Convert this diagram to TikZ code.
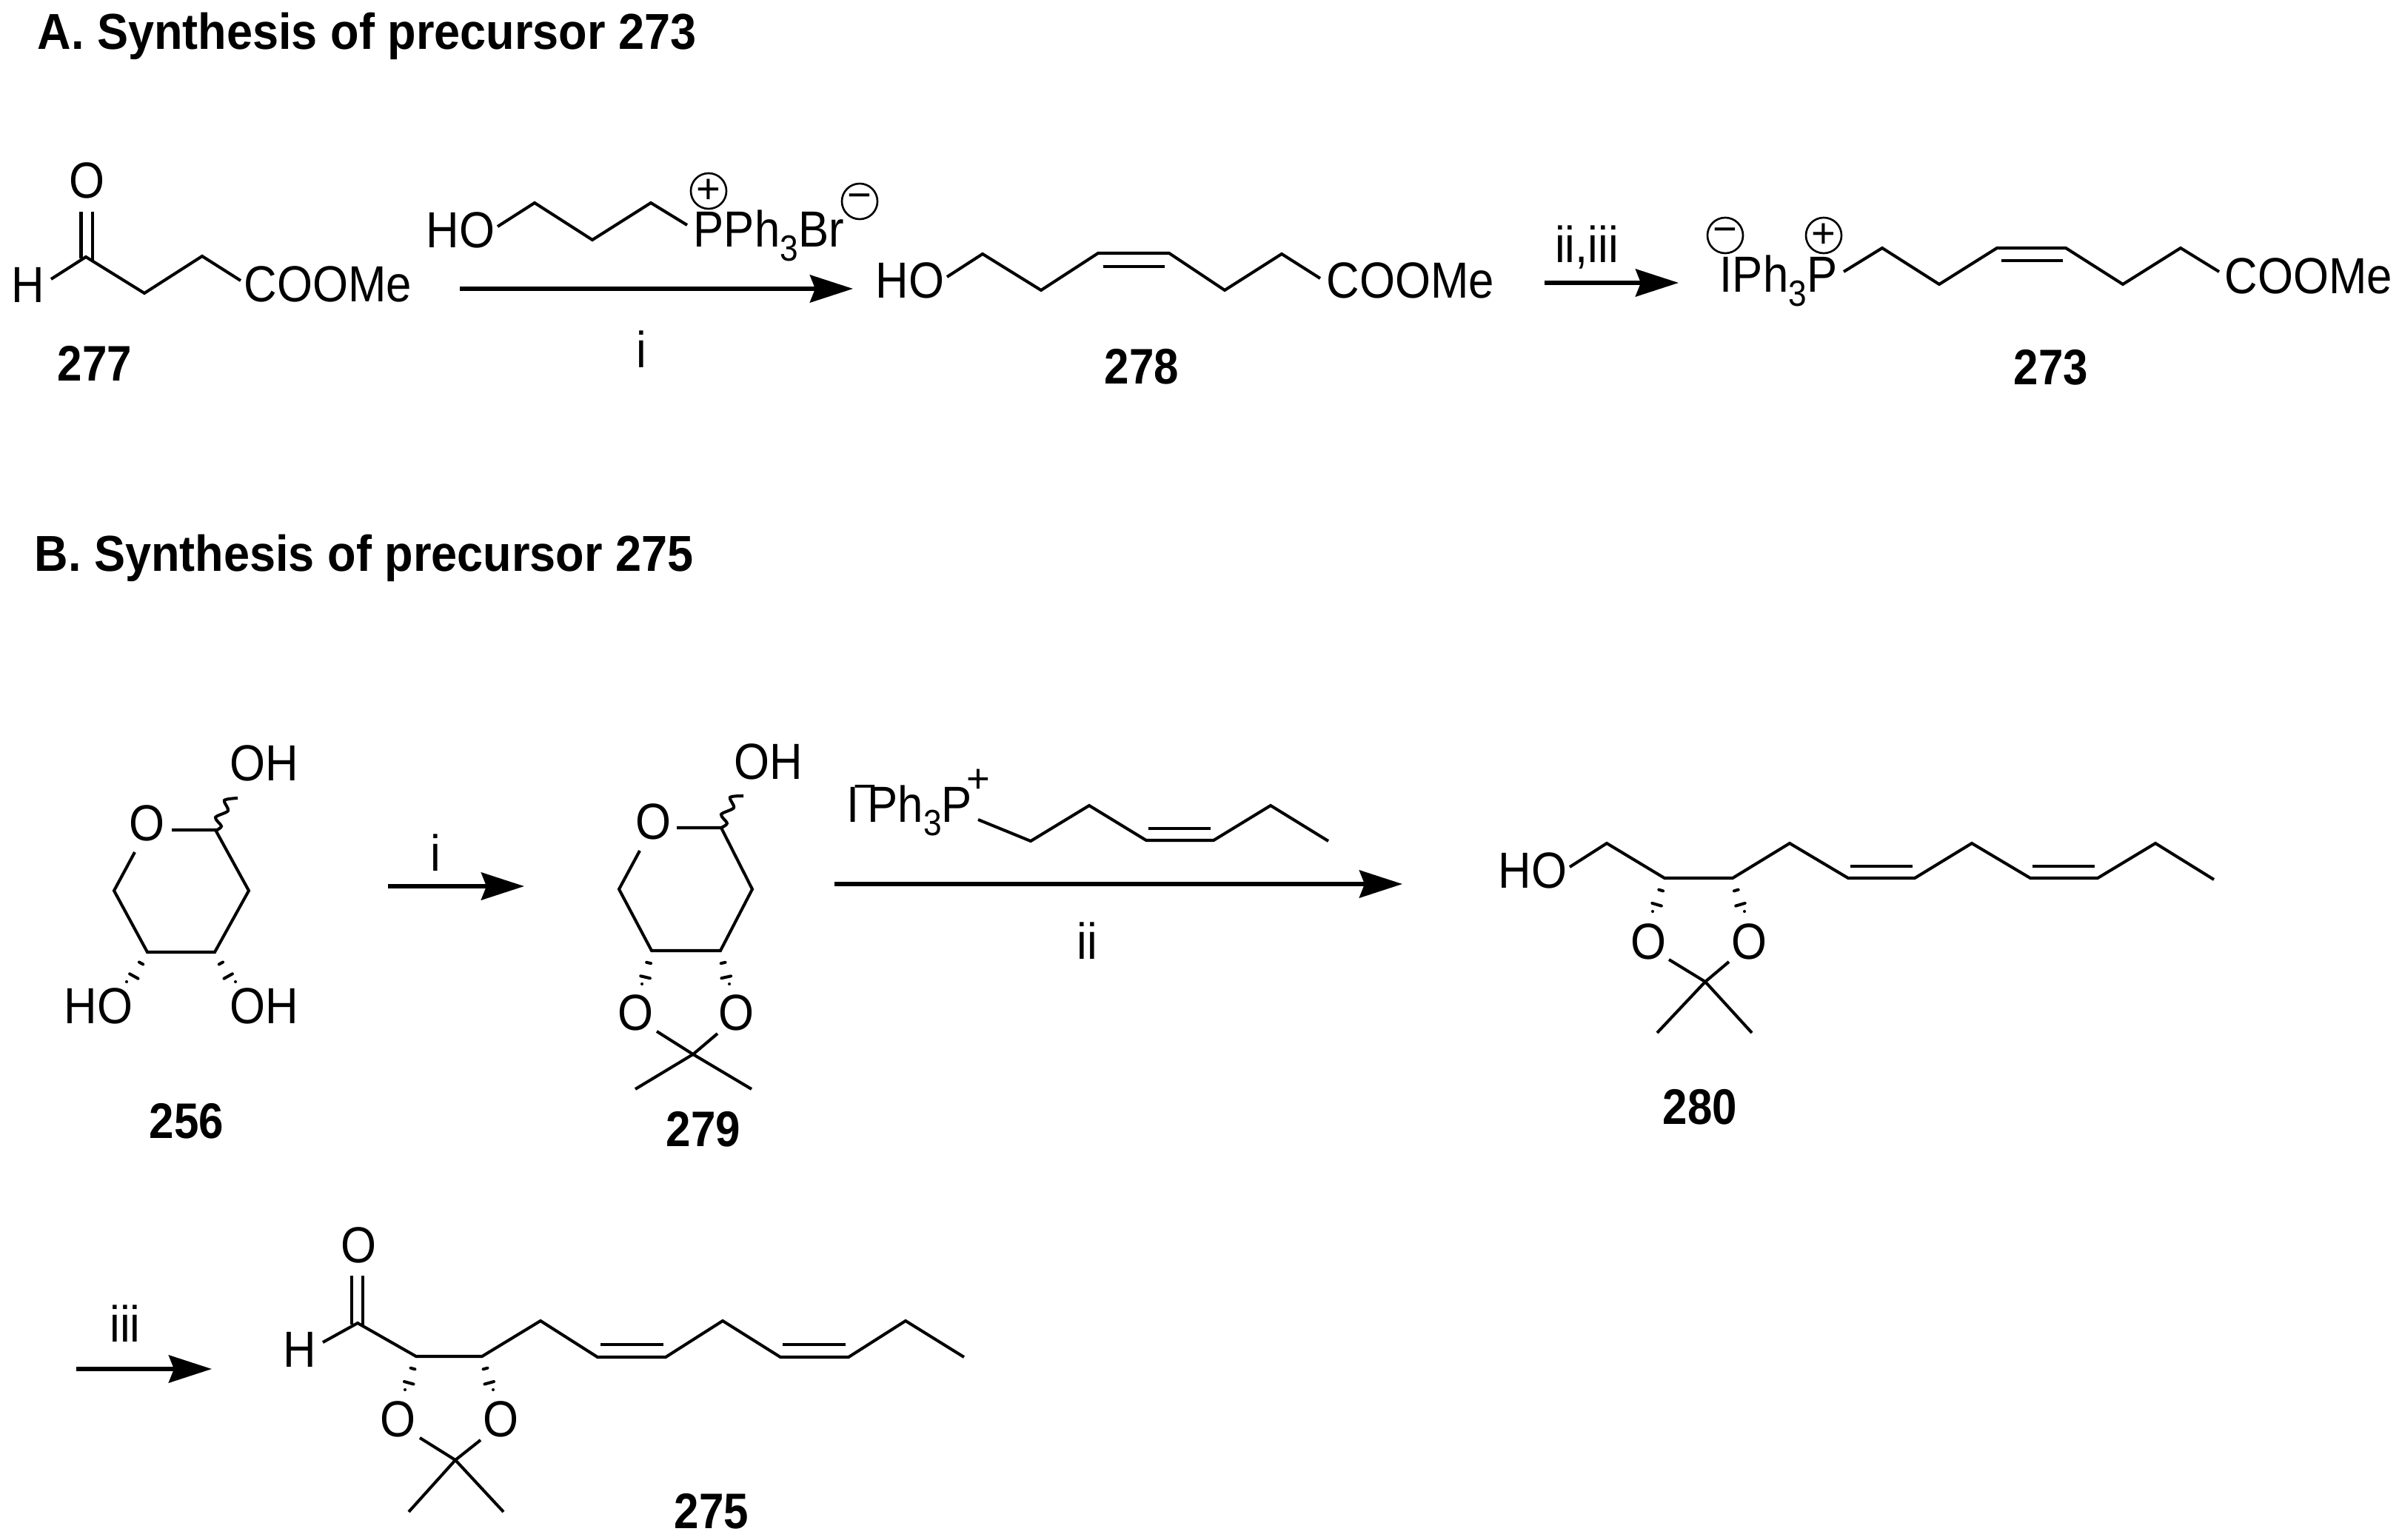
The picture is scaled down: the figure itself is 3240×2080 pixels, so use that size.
\documentclass[tikz,border=0pt]{standalone}
\usepackage{fontspec}
\setmainfont{Liberation Sans}
\usetikzlibrary{arrows.meta,calc}
\newcommand\chemtxt[1]{\scalebox{.9}[1]{#1}}
\newcommand\boldtxt[1]{\scalebox{.89}[1]{#1}}
\newcommand\headtxt[1]{\scalebox{.924}[1]{#1}}
\newcommand\subthree{\raisebox{-5.4pt}{\fontsize{14}{14}\selectfont 3}}
\newcommand\hashbond[2]{\foreach \f/\h in {.3/.03,.65/.065,1/.1}{\draw[hashmark] ($#1!\f!#2!\h cm!90:#2$) -- ($#1!\f!#2!\h cm!-90:#2$);}}
\tikzset{
  x=0.01cm,y=-0.01cm,
  bond/.style={line width=1.15pt,line join=miter,line cap=butt},
  hashmark/.style={line width=1.15pt,line cap=round},
  rxn/.style={line width=1.6pt,-{Stealth[length=5.8mm,width=3.7mm,inset=0.7mm]}},
  lab/.style={inner sep=0pt,yshift=-0.02cm,font=\fontsize{19.5}{19.5}\selectfont},
  cmpd/.style={inner sep=0pt,font=\fontsize{19.2}{19.2}\selectfont\bfseries},
  head/.style={inner sep=0pt,anchor=base west,font=\fontsize{19.4}{19.4}\selectfont\bfseries},
  chg/.style={circle,draw,line width=.75pt,minimum size=0.48cm,inner sep=0pt,font=\fontsize{16}{16}\selectfont},
  bare/.style={inner sep=0pt,font=\fontsize{15.5}{15.5}\selectfont},
}
\begin{document}
\begin{tikzpicture}
\useasboundingbox (0,0) rectangle (3240,2080);
\fill[white] (0,0) rectangle (3240,2080);
% headers
\node[head] (hA) at (50,67) {\headtxt{A. Synthesis of precursor 273}};
\node[head] (hB) at (46,772) {\headtxt{B. Synthesis of precursor 275}};
% 277
\node[lab,anchor=base] (o277) at (117,266) {\chemtxt{O}};
\node[lab,anchor=base] (h277) at (38,407) {\chemtxt{H}};
\node[lab,anchor=base west] (c277) at (329,406) {\chemtxt{COOMe}};
\draw[bond] (69,377) -- (116,347) -- (195,396) -- (273,346) -- (325,379);
\draw[bond] (109.5,286) -- (109.5,349) (124.7,286) -- (124.7,352);
\node[cmpd] (n277) at (128,491) {\boldtxt{277}};
% reagent i
\node[lab,anchor=base west] (ho1) at (575,333) {\chemtxt{HO}};
\draw[bond] (672,306) -- (722,274) -- (800,324) -- (879,274) -- (928,304);
\node[lab,anchor=base west] (pph) at (936,332) {\chemtxt{PPh\subthree Br}};
\node[chg] (pc1) at (957,258) {+};
\node[chg] (mc1) at (1161,272) {−};
\coordinate (a1s) at (621,390); \coordinate (a1e) at (1152,390);
\draw[rxn] (a1s) -- (a1e);
\node[lab] (i1) at (866,470) {\chemtxt{i}};
% 278
\node[lab,anchor=base west] (ho278) at (1182,401) {\chemtxt{HO}};
\draw[bond] (1279,374) -- (1327,343) -- (1406,392) -- (1483,342) -- (1579,342) -- (1654,392) -- (1731,343) -- (1783,376);
\draw[bond] (1490,360) -- (1573,360);
\node[lab,anchor=base west] (c278) at (1791,401) {\chemtxt{COOMe}};
\node[cmpd] (n278) at (1542,495) {\boldtxt{278}};
% arrow ii,iii
\coordinate (a2s) at (2086,382); \coordinate (a2e) at (2267,382);
\draw[rxn] (a2s) -- (a2e);
\node[lab,anchor=base] (r23) at (2143,353) {\chemtxt{ii,iii}};
% 273
\node[chg] (mc2) at (2330,318) {−};
\node[chg] (pc2) at (2463,318) {+};
\node[lab,anchor=base west] (iph) at (2322,393) {\chemtxt{IPh\subthree P}};
\draw[bond] (2490,367) -- (2542,335) -- (2619,384) -- (2697,335) -- (2790,335) -- (2867,384) -- (2945,335) -- (2997,367);
\draw[bond] (2703,352) -- (2786,352);
\node[lab,anchor=base west] (c273) at (3004,395) {\chemtxt{COOMe}};
\node[cmpd] (n273) at (2770,496) {\boldtxt{273}};
% 256
\node[lab,anchor=base] (oh256) at (357,1052) {\chemtxt{OH}};
\node[lab] (o256) at (199,1110) {\chemtxt{O}};
\draw[bond] (232,1121) -- (291,1121) -- (336,1203) -- (290,1286) -- (199,1286) -- (154,1203) -- (182,1151);
\draw[bond] plot[smooth] coordinates {(291,1122) (299,1116) (291,1104) (308,1095) (303,1081) (321,1078)};
\hashbond{(199,1286)}{(171,1336)}
\hashbond{(290,1286)}{(318,1336)}
\node[lab,anchor=base] (ho256) at (133,1380) {\chemtxt{HO}};
\node[lab,anchor=base] (oh256b) at (357,1380) {\chemtxt{OH}};
\node[cmpd] (n256) at (252,1514) {\boldtxt{256}};
% arrow i
\coordinate (a3s) at (524,1197); \coordinate (a3e) at (708,1197);
\draw[rxn] (a3s) -- (a3e);
\node[lab] (i2) at (588,1150) {\chemtxt{i}};
% 279
\node[lab,anchor=base] (oh279) at (1038,1050) {\chemtxt{OH}};
\node[lab] (o279) at (882,1108) {\chemtxt{O}};
\draw[bond] (914,1118) -- (974,1118) -- (1016,1201) -- (973,1284) -- (880,1284) -- (836,1201) -- (864,1149);
\draw[bond] plot[smooth] coordinates {(974,1118) (982,1112) (974,1100) (991,1091) (986,1077) (1004,1075)};
\hashbond{(880,1284)}{(867,1339)}
\hashbond{(973,1284)}{(985,1339)}
\node[lab] (oa279) at (858,1366) {\chemtxt{O}};
\node[lab] (ob279) at (994,1366) {\chemtxt{O}};
\draw[bond] (887,1393) -- (936,1424) -- (1015,1471) (969,1396) -- (936,1424) -- (858,1471);
\node[cmpd] (n279) at (950,1525) {\boldtxt{279}};
% reagent ii
\node[lab,anchor=base west] (iph2) at (1143,1108) {\chemtxt{I\kern3.4pt Ph\subthree P}};
\node[bare] (mi) at (1168,1070) {−};
\node[bare] (pl) at (1321,1055) {+};
\draw[bond] (1321,1107) -- (1392,1136) -- (1471,1088) -- (1548,1135) -- (1639,1135) -- (1716,1088) -- (1794,1136);
\draw[bond] (1551,1119) -- (1635,1119);
\coordinate (a4s) at (1127,1194); \coordinate (a4e) at (1894,1194);
\draw[rxn] (a4s) -- (a4e);
\node[lab] (ii) at (1468,1269) {\chemtxt{ii}};
% 280
\node[lab,anchor=base west] (ho280) at (2023,1197) {\chemtxt{HO}};
\draw[bond] (2120,1171) -- (2170,1139) -- (2248,1186) -- (2340,1186) -- (2417,1139) -- (2496,1186) -- (2586,1186) -- (2663,1139) -- (2742,1186) -- (2833,1186) -- (2911,1139) -- (2990,1188);
\draw[bond] (2499,1170) -- (2583,1170) (2745,1170) -- (2829,1170);
\hashbond{(2248,1186)}{(2232,1241)}
\hashbond{(2340,1186)}{(2356,1241)}
\node[lab] (oa280) at (2226,1270) {\chemtxt{O}};
\node[lab] (ob280) at (2362,1270) {\chemtxt{O}};
\draw[bond] (2254,1296) -- (2303,1326) -- (2366,1395) (2335,1299) -- (2303,1326) -- (2238,1395);
\node[cmpd] (n280) at (2296,1495) {\boldtxt{280}};
% arrow iii
\coordinate (a5s) at (103,1849); \coordinate (a5e) at (286,1849);
\draw[rxn] (a5s) -- (a5e);
\node[lab] (iii) at (169,1786) {\chemtxt{iii}};
% 275
\node[lab] (o275) at (484,1680) {\chemtxt{O}};
\node[lab] (h275) at (405,1821) {\chemtxt{H}};
\draw[bond] (475,1723) -- (475,1789) (490,1723) -- (490,1792);
\draw[bond] (436,1813) -- (483,1787) -- (562,1832) -- (651,1832) -- (730,1784) -- (807,1833) -- (899,1833) -- (976,1784) -- (1054,1833) -- (1146,1833) -- (1223,1784) -- (1302,1833);
\draw[bond] (811,1816) -- (896,1816) (1057,1816) -- (1142,1816);
\hashbond{(562,1832)}{(547,1887)}
\hashbond{(651,1832)}{(666,1887)}
\node[lab] (oa275) at (537,1915) {\chemtxt{O}};
\node[lab] (ob275) at (676,1915) {\chemtxt{O}};
\draw[bond] (567,1942) -- (615,1972) -- (680,2042) (649,1945) -- (615,1972) -- (552,2042);
\node[cmpd] (n275) at (961,2041) {\boldtxt{275}};
\end{tikzpicture}
\end{document}
